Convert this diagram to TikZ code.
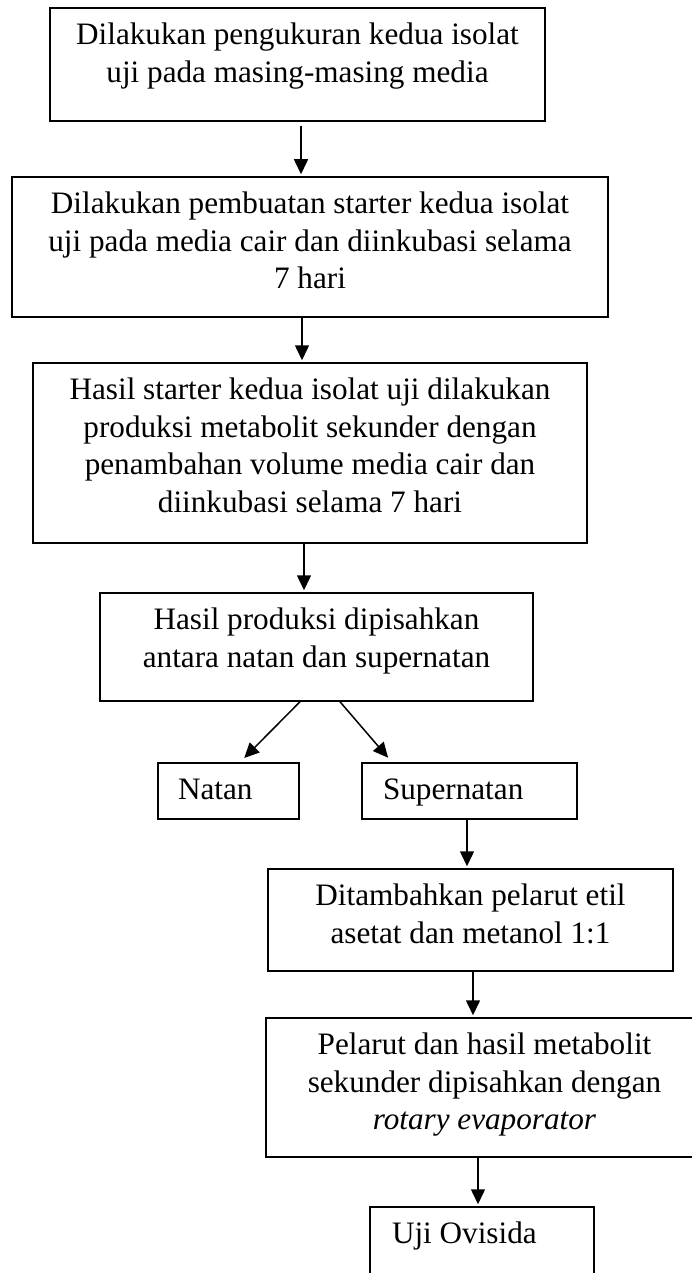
\documentclass[tikz,border=0pt]{standalone}
\usepackage{fontspec}
\setmainfont{Liberation Serif}
\usetikzlibrary{arrows.meta}

\newcommand{\midtext}[3]{\parbox[c][#2pt][t]{#1pt}{\centering\rule{0pt}{36.5pt}#3}}
\newcommand{\lefttext}[4]{\parbox[c][#2pt][t]{#1pt}{\hspace*{#3pt}\rule{0pt}{36.5pt}#4}}

\begin{document}
\begin{tikzpicture}[x=1pt, y=-1pt, line width=1.5pt,
  stepbox/.style={draw, inner sep=0pt, font={\fontsize{31.2}{37.7}\selectfont}},
  flow/.style={-{Triangle[length=15pt,width=14pt]}, shorten >=2pt}]
\path[use as bounding box, clip] (0,0) rectangle (692,1273);
\node[stepbox] (ukur) at (297.5,64.5) {\midtext{495}{113}{Dilakukan pengukuran kedua isolat\\uji pada masing-masing media}};
\node[stepbox] (starter) at (310,247) {\midtext{596}{140}{Dilakukan pembuatan starter kedua isolat\\uji pada media cair dan diinkubasi selama\\7 hari}};
\node[stepbox] (produksi) at (310,453) {\midtext{554}{180}{Hasil starter kedua isolat uji dilakukan\\produksi metabolit sekunder dengan\\penambahan volume media cair dan\\diinkubasi selama 7 hari}};
\node[stepbox] (pisah) at (316.5,647) {\midtext{433}{108}{Hasil produksi dipisahkan\\antara natan dan supernatan}};
\node[stepbox] (natan) at (228.5,791) {\lefttext{141}{56}{20}{Natan}};
\node[stepbox] (super) at (469.5,791) {\lefttext{215}{56}{21}{Supernatan}};
\node[stepbox] (pelarut) at (470.5,920) {\midtext{405}{102}{Ditambahkan pelarut etil\\asetat dan metanol 1:1}};
\node[stepbox] (evap) at (484.5,1087.5) {\midtext{437}{139}{Pelarut dan hasil metabolit\\sekunder dipisahkan dengan\\\textit{rotary evaporator}}};
\node[stepbox] (ovisida) at (482,1248.5) {\lefttext{224}{83}{22}{Uji Ovisida}};
\coordinate (c1) at (301,0);
\coordinate (c2) at (302,0);
\coordinate (c3) at (304,0);
\coordinate (c4) at (467,0);
\coordinate (c5) at (473,0);
\coordinate (c6) at (478,0);
\coordinate (dl) at (300,0);
\coordinate (tl) at (240,0);
\coordinate (dr) at (340,0);
\coordinate (tr) at (392,0);
\draw[flow, shorten <=4pt] (ukur.south -| c1) -- (starter.north -| c1);
\draw[flow] (starter.south -| c2) -- (produksi.north -| c2);
\draw[flow] (produksi.south -| c3) -- (pisah.north -| c3);
\draw[flow, shorten >=6pt] (pisah.south -| dl) -- (natan.north -| tl);
\draw[flow, shorten >=6pt] (pisah.south -| dr) -- (super.north -| tr);
\draw[flow] (super.south -| c4) -- (pelarut.north -| c4);
\draw[flow] (pelarut.south -| c5) -- (evap.north -| c5);
\draw[flow] (evap.south -| c6) -- (ovisida.north -| c6);
\end{tikzpicture}
\end{document}
